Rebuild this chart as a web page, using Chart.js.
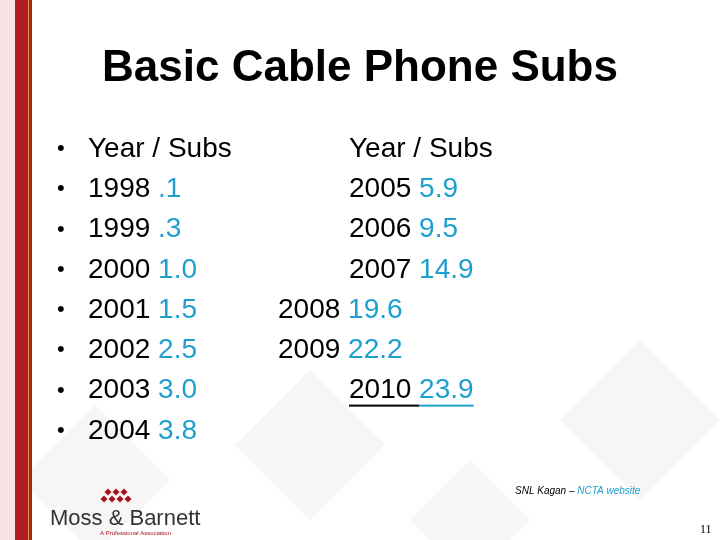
<!DOCTYPE html>
<html>
<head>
<meta charset="utf-8">
<script src="https://cdn.jsdelivr.net/npm/chart.js@4/dist/chart.umd.min.js"></script>
<style>
  html, body { margin: 0; padding: 0; background: #fff; }
  #wrap { width: 720px; height: 540px; position: relative; }
</style>
</head>
<body>
<div id="wrap"><canvas id="slide"></canvas></div>
<script>
let leftYears = ['1998', '1999', '2000', '2001', '2002', '2003', '2004'];
let leftSubs = ['.1', '.3', '1.0', '1.5', '2.5', '3.0', '3.8'];
let rightYears = ['2005', '2006', '2007', '2008', '2009', '2010'];
let rightSubs = ['5.9', '9.5', '14.9', '19.6', '22.2', '23.9'];
let rowLabels = ['r0', 'r1', 'r2', 'r3', 'r4', 'r5', 'r6', 'r7'];

let cyan = '#1e9fd0';
let font = '"Liberation Sans", Arial, sans-serif';

// background: red edge bar + faint diamonds
let backgroundPlugin = {
  id: 'background',
  beforeDraw(chart) {
    let ctx = chart.ctx;
    ctx.save();
    ctx.fillStyle = '#fff';
    ctx.fillRect(0, 0, 720, 540);
    ctx.fillStyle = '#f8f6f4';
    let diamonds = [[95, 480, 75], [310, 445, 75], [640, 420, 80], [470, 520, 60]];
    diamonds.forEach(function(d) {
      ctx.beginPath();
      ctx.moveTo(d[0], d[1] - d[2]);
      ctx.lineTo(d[0] + d[2], d[1]);
      ctx.lineTo(d[0], d[1] + d[2]);
      ctx.lineTo(d[0] - d[2], d[1]);
      ctx.closePath();
      ctx.fill();
    });
    ctx.fillStyle = '#f7e3e3';
    ctx.fillRect(0, 0, 15, 540);
    ctx.fillStyle = '#b01e23';
    ctx.fillRect(15, 0, 17, 540);
    ctx.fillStyle = '#c9a24a';
    ctx.fillRect(28, 0, 1, 540);
    ctx.restore();
  }
};

// slide text, rows placed by the y category scale
let textPlugin = {
  id: 'slideText',
  afterDraw(chart) {
    let ctx = chart.ctx;
    let y = chart.scales.y;
    ctx.save();
    ctx.textBaseline = 'middle';
    ctx.fillStyle = '#000';
    ctx.textAlign = 'center';
    ctx.font = 'bold 44px ' + font;
    ctx.fillText('Basic Cable Phone Subs', 360, 69);

    ctx.textAlign = 'left';
    ctx.font = '28px ' + font;

    function pair(x, row, year, sub, underline) {
      let py = y.getPixelForValue(row);
      ctx.fillStyle = '#000';
      ctx.fillText(year, x, py);
      let w = ctx.measureText(year + ' ').width;
      ctx.fillStyle = cyan;
      ctx.fillText(sub, x + w, py);
      if (underline) {
        let total = w + ctx.measureText(sub).width;
        ctx.fillStyle = '#000';
        ctx.fillRect(x, py + 14, w, 2);
        ctx.fillStyle = cyan;
        ctx.fillRect(x + w, py + 14, total - w, 2);
      }
    }

    for (let i = 0; i < rowLabels.length; i++) {
      let py = y.getPixelForValue(i);
      ctx.fillStyle = '#000';
      ctx.font = '22px ' + font;
      ctx.fillText('•', 57, py);
    }
    ctx.font = '28px ' + font;
    ctx.fillText('Year / Subs', 88, y.getPixelForValue(0));
    for (let i = 0; i < leftYears.length; i++) {
      pair(88, i + 1, leftYears[i], leftSubs[i], false);
    }

    ctx.fillStyle = '#000';
    ctx.fillText('Year / Subs', 349, y.getPixelForValue(0));
    for (let i = 0; i < rightYears.length; i++) {
      let x = (i === 3 || i === 4) ? 278 : 349;
      pair(x, i + 1, rightYears[i], rightSubs[i], i === 5);
    }

    // source
    ctx.font = 'italic 10px ' + font;
    ctx.fillStyle = '#000';
    ctx.fillText('SNL Kagan – ', 515, 491);
    let sw = ctx.measureText('SNL Kagan – ').width;
    ctx.fillStyle = cyan;
    ctx.fillText('NCTA website', 515 + sw, 491);

    // page number
    ctx.font = '12px "Liberation Serif", serif';
    ctx.fillStyle = '#000';
    ctx.fillText('11', 700, 530);

    // logo
    ctx.fillStyle = '#a3151c';
    let dots = [[104, 491], [112, 491], [120, 491], [108, 498], [116, 498], [100, 498], [124, 498]];
    dots = [[108, 492], [116, 492], [104, 499], [112, 499], [120, 499], [128, 499], [124, 492]];
    dots.forEach(function(d) {
      ctx.beginPath();
      ctx.moveTo(d[0], d[1] - 3.5);
      ctx.lineTo(d[0] + 3.5, d[1]);
      ctx.lineTo(d[0], d[1] + 3.5);
      ctx.lineTo(d[0] - 3.5, d[1]);
      ctx.closePath();
      ctx.fill();
    });
    ctx.fillStyle = '#333';
    ctx.font = '22px ' + font;
    ctx.fillText('Moss & Barnett', 50, 519);
    ctx.fillStyle = '#a3151c';
    ctx.font = '6px ' + font;
    ctx.fillText('A Professional Association', 100, 533);
    ctx.restore();
  }
};

new Chart(document.querySelector('#slide'), {
  type: 'bar',
  data: {
    labels: rowLabels,
    datasets: [{ data: rowLabels.map(function() { return 0; }), backgroundColor: 'rgba(0,0,0,0)' }]
  },
  options: {
    indexAxis: 'y',
    responsive: true,
    maintainAspectRatio: false,
    animation: false,
    layout: { padding: { top: 129, bottom: 89, left: 0, right: 0 } },
    plugins: { legend: { display: false }, tooltip: { enabled: false } },
    scales: {
      x: { display: false, min: 0, max: 1 },
      y: { display: false }
    }
  },
  plugins: [backgroundPlugin, textPlugin]
});
</script>
</body>
</html>
